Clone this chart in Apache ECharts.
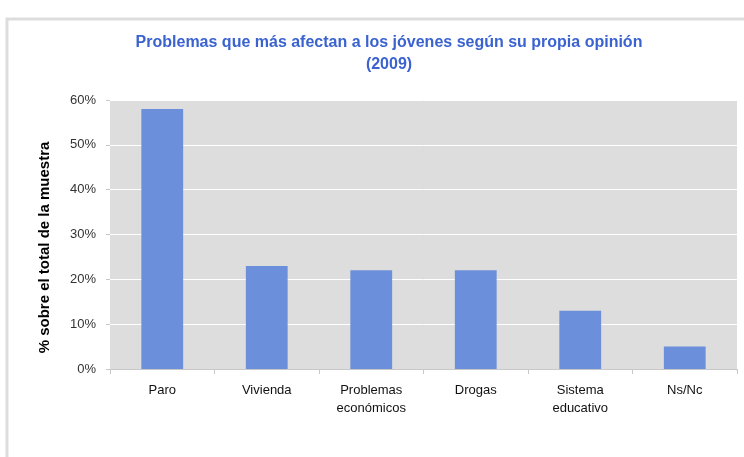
<!DOCTYPE html>
<html>
<head>
<meta charset="utf-8">
<script src="https://cdn.jsdelivr.net/npm/echarts@6/dist/echarts.min.js"></script>
<style>
  html, body { margin: 0; padding: 0; background: #fff; }
  #chart { width: 744px; height: 457px; }
</style>
</head>
<body>
<div id="chart"></div>
<script>
// 数据
const categories = ['Paro', 'Vivienda', 'Problemas\neconómicos', 'Drogas', 'Sistema\neducativo', 'Ns/Nc'];
const values = [58, 23, 22, 22, 13, 5];
const yTicks = [0, 10, 20, 30, 40, 50, 60];

const chart = echarts.init(document.getElementById('chart'));

const option = {
    animation: false,
    backgroundColor: '#fff',
    title: {
        text: 'Problemas que más afectan a los jóvenes según su propia opinión\n(2009)',
        left: 384,
        textAlign: 'center',
        top: 27,
        textStyle: {
            fontFamily: 'Liberation Sans',
            fontWeight: 'bold',
            fontSize: 16,
            lineHeight: 22,
            color: '#3a63d0'
        }
    },
    // 外框
    graphic: [{
        type: 'rect',
        silent: true,
        shape: { x: 7, y: 19, width: 800, height: 520 },
        style: { fill: 'none', stroke: '#dddddd', lineWidth: 3 }
    }],
    grid: {
        left: 110,
        right: 7,
        top: 100,
        bottom: 88,
        show: true,
        backgroundColor: '#dddddd',
        borderWidth: 0
    },
    xAxis: {
        type: 'category',
        data: categories,
        axisLine: { lineStyle: { color: '#c8c8c8', width: 1 } },
        axisTick: { show: true, length: 5, lineStyle: { color: '#c8c8c8' } },
        axisLabel: {
            margin: 12,
            fontFamily: 'Liberation Sans',
            fontSize: 13,
            lineHeight: 18,
            color: '#111'
        }
    },
    yAxis: {
        type: 'value',
        min: 0,
        max: yTicks[yTicks.length - 1],
        interval: 10,
        name: '% sobre el total de la muestra',
        nameLocation: 'middle',
        nameGap: 58,
        nameTextStyle: {
            fontFamily: 'Liberation Sans',
            fontWeight: 'bold',
            fontSize: 15,
            color: '#000',
            padding: [0, 26, 0, 0]
        },
        axisLine: { show: false },
        axisTick: { show: true, length: 4, lineStyle: { color: '#c8c8c8' } },
        axisLabel: {
            margin: 14,
            fontFamily: 'Liberation Sans',
            fontSize: 13,
            color: '#333',
            formatter: v => v + '%'
        },
        splitLine: { lineStyle: { color: '#ffffff', width: 1 } }
    },
    series: [{
        type: 'bar',
        data: values,
        barWidth: '40%',
        itemStyle: { color: '#6b8fdb' }
    }]
};

chart.setOption(option);
</script>
</body>
</html>
